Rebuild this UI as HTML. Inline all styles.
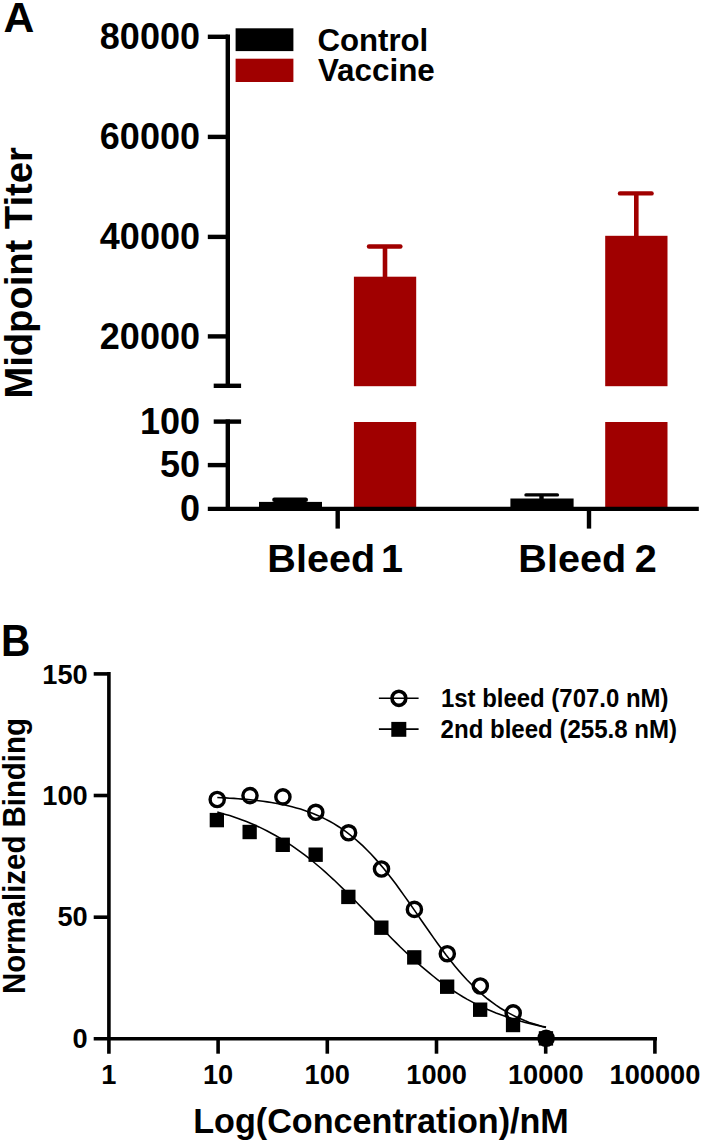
<!DOCTYPE html>
<html lang="en"><head><meta charset="utf-8"><title>Figure</title>
<style>
html,body{margin:0;padding:0;background:#fff;overflow:hidden}
svg{display:block}
text{font-family:"Liberation Sans",Arial,Helvetica,sans-serif;font-weight:bold;fill:#000}
</style></head><body>
<svg width="702" height="1144" viewBox="0 0 702 1144">
<rect width="702" height="1144" fill="#fff"/>

<!-- Panel A -->
<text transform="translate(3.50,32.10)" font-size="42.7">A</text>
<rect x="235.6" y="28.3" width="57.8" height="22.8" fill="#000"/>
<rect x="235.6" y="58.7" width="57.8" height="23.3" fill="#a00000"/>
<text transform="translate(317.40,51.30)" font-size="31.2">Control</text>
<text transform="translate(317.90,81.30)" font-size="31.4">Vaccine</text>
<rect x="353.9" y="276.7" width="62.3" height="109.5" fill="#a00000"/>
<rect x="353.9" y="422" width="62.3" height="86.6" fill="#a00000"/>
<rect x="605.2" y="235.8" width="62.3" height="150.4" fill="#a00000"/>
<rect x="605.2" y="422" width="62.3" height="86.6" fill="#a00000"/>
<g stroke="#a00000" stroke-width="4.4" stroke-linecap="round" fill="none">
<path d="M369,246.5 H400.4"/><path d="M385,246.5 V278" stroke-linecap="butt" stroke-width="4.6"/>
<path d="M620,193.4 H651.6"/><path d="M636.3,193.4 V237" stroke-linecap="butt" stroke-width="4.6"/>
</g>
<rect x="259" y="501.9" width="63" height="6" fill="#000"/>
<rect x="510.4" y="498.5" width="63.2" height="9" fill="#000"/>
<g stroke="#000" stroke-linecap="round" fill="none">
<path d="M274.4,499.8 H305.8" stroke-width="4.4"/>
<path d="M526,494.9 H557.4" stroke-width="3.4"/><path d="M541.5,494.9 V499" stroke-width="4.4" stroke-linecap="butt"/>
</g>
<g stroke="#000" stroke-width="4.4" fill="none" stroke-linecap="butt">
<path d="M227.8,34.6 V388"/>
<path d="M227.8,419.4 V508.9"/>
<path d="M207.8,36.8 H227.8"/>
<path d="M207.8,136.9 H227.8"/>
<path d="M207.8,236.9 H227.8"/>
<path d="M207.8,336.4 H227.8"/>
<path d="M213.7,385.8 H241.1"/>
<path d="M213.7,421.6 H241.1"/>
<path d="M207.8,465.1 H227.8"/>
<path d="M207.8,508.9 H698.8"/>
<path d="M337.7,508.9 V528.6"/>
<path d="M589,508.9 V528.6"/>
</g>
<text transform="translate(200.00,49.00) scale(1.012,1.045)" font-size="35.6" text-anchor="end">80000</text>
<text transform="translate(200.00,149.10) scale(1.012,1.045)" font-size="35.6" text-anchor="end">60000</text>
<text transform="translate(200.00,249.10) scale(1.012,1.045)" font-size="35.6" text-anchor="end">40000</text>
<text transform="translate(200.00,348.60) scale(1.012,1.045)" font-size="35.6" text-anchor="end">20000</text>
<text transform="translate(200.00,433.80) scale(1.012,1.045)" font-size="35.6" text-anchor="end">100</text>
<text transform="translate(200.00,477.30) scale(1.012,1.045)" font-size="35.6" text-anchor="end">50</text>
<text transform="translate(200.00,521.10) scale(1.012,1.045)" font-size="35.6" text-anchor="end">0</text>
<text transform="translate(31.50,398.50) rotate(-90) scale(0.998,1.028)" font-size="38.2">Midpoint Titer</text>
<text x="267.3" y="571.9" font-size="39.6">Bleed <tspan x="381">1</tspan></text>
<text x="518.3" y="571.9" font-size="39.6">Bleed <tspan x="634.7">2</tspan></text>
<!-- Panel B -->
<text transform="translate(1.05,655.70) scale(0.933,1)" font-size="43.6">B</text>
<g stroke="#000" stroke-width="3.6" fill="none">
<path d="M108.9,672.1 V1053.7"/>
<path d="M93.7,1038.8 H657"/>
<path d="M93.7,673.9 H108.9"/>
<path d="M93.7,795.5 H108.9"/>
<path d="M93.7,917.2 H108.9"/>
<path d="M218.1,1038.8 V1053.7"/>
<path d="M327.3,1038.8 V1053.7"/>
<path d="M436.5,1038.8 V1053.7"/>
<path d="M545.7,1038.8 V1053.7"/>
<path d="M654.9,1038.8 V1053.7"/>
</g>
<text transform="translate(87.70,683.50)" font-size="27.2" text-anchor="end">150</text>
<text transform="translate(87.70,805.13)" font-size="27.2" text-anchor="end">100</text>
<text transform="translate(87.70,926.17)" font-size="27.2" text-anchor="end">50</text>
<text transform="translate(87.70,1048.40)" font-size="27.2" text-anchor="end">0</text>
<text transform="translate(108.90,1084.10) scale(1,1.02)" font-size="27.2" text-anchor="middle">1</text>
<text transform="translate(218.10,1084.10) scale(1,1.02)" font-size="27.2" text-anchor="middle">10</text>
<text transform="translate(327.30,1084.10) scale(1,1.02)" font-size="27.2" text-anchor="middle">100</text>
<text transform="translate(436.50,1084.10) scale(1,1.02)" font-size="27.2" text-anchor="middle">1000</text>
<text transform="translate(545.70,1084.10) scale(1,1.02)" font-size="27.2" text-anchor="middle">10000</text>
<text transform="translate(654.90,1084.10) scale(1,1.02)" font-size="27.2" text-anchor="middle">100000</text>
<text transform="translate(25.20,994.10) rotate(-90) scale(0.997,1.085)" font-size="29.5">Normalized Binding</text>
<text transform="translate(193.20,1133.20) scale(0.993,1.04)" font-size="34.4">Log(Concentration)/nM</text>
<g stroke="#000" stroke-width="1.6" fill="none">
<path d="M217.3,797.5 L221.4,797.7 L225.6,797.9 L229.7,798.2 L233.9,798.4 L238.1,798.7 L242.2,799.1 L246.4,799.4 L250.5,799.8 L254.7,800.3 L258.9,800.8 L263.0,801.3 L267.2,801.9 L271.3,802.5 L275.5,803.2 L279.7,804.0 L283.8,804.8 L288.0,805.8 L292.1,806.8 L296.3,807.9 L300.5,809.1 L304.6,810.4 L308.8,811.9 L313.0,813.5 L317.1,815.2 L321.3,817.0 L325.4,819.1 L329.6,821.3 L333.8,823.6 L337.9,826.2 L342.1,828.9 L346.2,831.9 L350.4,835.1 L354.6,838.5 L358.7,842.1 L362.9,845.9 L367.0,850.0 L371.2,854.3 L375.4,858.9 L379.5,863.6 L383.7,868.6 L387.9,873.7 L392.0,879.1 L396.2,884.6 L400.3,890.3 L404.5,896.1 L408.7,902.0 L412.8,907.9 L417.0,913.9 L421.1,920.0 L425.3,926.0 L429.5,932.0 L433.6,937.9 L437.8,943.7 L441.9,949.3 L446.1,954.9 L450.3,960.2 L454.4,965.4 L458.6,970.4 L462.8,975.2 L466.9,979.7 L471.1,984.0 L475.2,988.1 L479.4,992.0 L483.6,995.6 L487.7,999.0 L491.9,1002.2 L496.0,1005.2 L500.2,1008.0 L504.4,1010.5 L508.5,1012.9 L512.7,1015.1 L516.8,1017.2 L521.0,1019.0 L525.2,1020.8 L529.3,1022.4 L533.5,1023.8 L537.7,1025.1 L541.8,1026.4 L546.0,1027.5"/>
<path d="M217.3,812.1 L221.4,813.2 L225.6,814.4 L229.7,815.6 L233.9,817.0 L238.1,818.4 L242.2,819.9 L246.4,821.5 L250.5,823.2 L254.7,825.0 L258.9,826.9 L263.0,828.9 L267.2,831.0 L271.3,833.2 L275.5,835.5 L279.7,837.9 L283.8,840.5 L288.0,843.1 L292.1,845.9 L296.3,848.8 L300.5,851.8 L304.6,854.9 L308.8,858.1 L313.0,861.5 L317.1,865.0 L321.3,868.5 L325.4,872.2 L329.6,876.0 L333.8,879.8 L337.9,883.8 L342.1,887.8 L346.2,891.9 L350.4,896.0 L354.6,900.3 L358.7,904.5 L362.9,908.8 L367.0,913.1 L371.2,917.4 L375.4,921.7 L379.5,926.0 L383.7,930.3 L387.9,934.5 L392.0,938.7 L396.2,942.9 L400.3,947.0 L404.5,951.0 L408.7,954.9 L412.8,958.8 L417.0,962.5 L421.1,966.2 L425.3,969.7 L429.5,973.2 L433.6,976.5 L437.8,979.8 L441.9,982.9 L446.1,985.9 L450.3,988.7 L454.4,991.5 L458.6,994.1 L462.8,996.7 L466.9,999.1 L471.1,1001.4 L475.2,1003.6 L479.4,1005.7 L483.6,1007.6 L487.7,1009.5 L491.9,1011.3 L496.0,1013.0 L500.2,1014.6 L504.4,1016.1 L508.5,1017.5 L512.7,1018.8 L516.8,1020.1 L521.0,1021.3 L525.2,1022.4 L529.3,1023.4 L533.5,1024.4 L537.7,1025.4 L541.8,1026.2 L546.0,1027.1"/>
<path d="M378.9,698.3 H418.6"/><path d="M378.9,729.1 H418.6"/>
</g>
<g fill="#000">
<rect x="209.7" y="812.9" width="14.3" height="14.4"/>
<rect x="242.5" y="824.8" width="14.3" height="14.4"/>
<rect x="275.6" y="837.6" width="14.3" height="14.4"/>
<rect x="308.5" y="847.5" width="14.3" height="14.4"/>
<rect x="341.2" y="889.7" width="14.3" height="14.4"/>
<rect x="374.2" y="920.5" width="14.3" height="14.4"/>
<rect x="407.1" y="950.2" width="14.3" height="14.4"/>
<rect x="440.0" y="979.5" width="14.3" height="14.4"/>
<rect x="473.0" y="1002.5" width="14.3" height="14.4"/>
<rect x="505.9" y="1017.8" width="14.3" height="14.4"/>
<rect x="538.8" y="1031.2" width="14.3" height="14.4"/>
<rect x="391.3" y="721.9" width="15" height="14.9"/>
</g>
<g fill="none" stroke="#000" stroke-width="3.4">
<circle cx="217.2" cy="799.5" r="7.1"/>
<circle cx="250.0" cy="795.6" r="7.1"/>
<circle cx="282.9" cy="796.9" r="7.1"/>
<circle cx="315.8" cy="812.3" r="7.1"/>
<circle cx="348.6" cy="832.8" r="7.1"/>
<circle cx="381.5" cy="869.0" r="7.1"/>
<circle cx="414.4" cy="909.4" r="7.1"/>
<circle cx="447.3" cy="953.7" r="7.1"/>
<circle cx="480.3" cy="986.0" r="7.1"/>
<circle cx="513.2" cy="1012.9" r="7.1"/>
<circle cx="546.1" cy="1038.3" r="7.1"/>
<ellipse cx="398.9" cy="698.3" rx="6.9" ry="7.1" stroke-width="3.6"/>
</g>
<text transform="translate(440.90,707.00) scale(0.911,1)" font-size="26.3">1st bleed (707.0 nM)</text>
<text transform="translate(440.60,737.60) scale(0.914,1)" font-size="26.3">2nd bleed (255.8 nM)</text>
</svg>
</body></html>
